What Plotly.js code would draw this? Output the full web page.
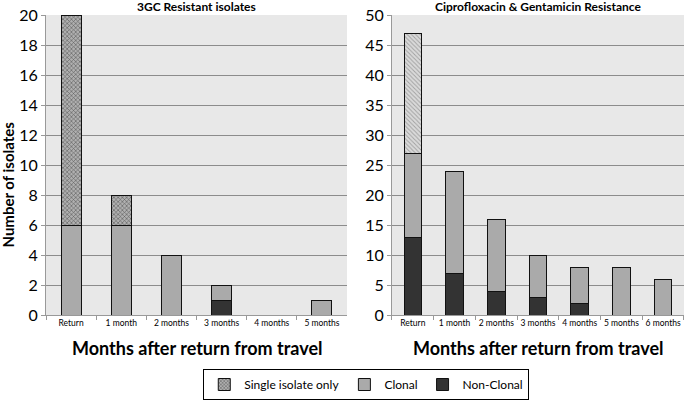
<!DOCTYPE html>
<html>
<head>
<meta charset="utf-8">
<script src="https://cdn.plot.ly/plotly-3.0.1.min.js"></script>
<style>html,body{margin:0;padding:0;background:#fff}#chart{width:685px;height:401px}</style>
</head>
<body>
<div id="chart"></div>
<script>
// Data
const catsLeft = ["Return", "1 month", "2 months", "3 months", "4 months", "5 months"];
const leftNonClonal = [0, 0, 0, 1, 0, 0];
const leftClonal = [6, 6, 4, 1, 0, 1];
const leftSingle = [14, 2, 0, 0, 0, 0];

const catsRight = ["Return", "1 month", "2 months", "3 months", "4 months", "5 months", "6 months"];
const rightNonClonal = [13, 7, 4, 3, 2, 0, 0];
const rightClonal = [14, 17, 12, 7, 6, 8, 6];
const rightSingle = [20, 0, 0, 0, 0, 0, 0];

const seriesNames = ["Non-Clonal", "Clonal", "Single isolate only"];
const titleLeft = "3GC Resistant isolates";
const titleRight = "Ciprofloxacin & Gentamicin Resistance";
const xTitle = "Months after return from travel";
const yTitle = "Number of isolates";

const FONT = "Lato, 'Open Sans', sans-serif";
const line = {color: "#111", width: 1};

const traces = [
  {type: "bar", name: seriesNames[0], x: catsLeft, y: leftNonClonal, xaxis: "x", yaxis: "y", width: 0.4,
   marker: {color: "#333333", line: line}, legendgroup: "nc"},
  {type: "bar", name: seriesNames[1], x: catsLeft, y: leftClonal, xaxis: "x", yaxis: "y", width: 0.4,
   marker: {color: "#aaaaaa", line: line}, legendgroup: "c"},
  {type: "bar", name: seriesNames[2], x: catsLeft, y: leftSingle, xaxis: "x", yaxis: "y", width: 0.4,
   marker: {color: "#9a9a9a", line: line, pattern: {shape: "x", fgcolor: "#5a5a5a", bgcolor: "#b0b0b0", size: 3, solidity: 0.35}}, legendgroup: "s"},
  {type: "bar", name: seriesNames[0], x: catsRight, y: rightNonClonal, xaxis: "x2", yaxis: "y2", width: 0.42,
   marker: {color: "#333333", line: line}, showlegend: false, legendgroup: "nc"},
  {type: "bar", name: seriesNames[1], x: catsRight, y: rightClonal, xaxis: "x2", yaxis: "y2", width: 0.42,
   marker: {color: "#aaaaaa", line: line}, showlegend: false, legendgroup: "c"},
  {type: "bar", name: seriesNames[2], x: catsRight, y: rightSingle, xaxis: "x2", yaxis: "y2", width: 0.42,
   marker: {color: "#d4d4d4", line: line, pattern: {shape: "\\", fgcolor: "#a0a0a0", bgcolor: "#dadada", size: 3, solidity: 0.3}}, showlegend: false, legendgroup: "s"}
];

const xcommon = {type: "category", showgrid: false, showline: true, linecolor: "#999", linewidth: 1,
  ticks: "outside", tickson: "boundaries", ticklen: 4, tickcolor: "#999", tickangle: 0,
  tickfont: {family: FONT, size: 8.5, color: "#000"}, fixedrange: true};
const ycommon = {showgrid: true, gridcolor: "#8c8c8c", gridwidth: 1, showline: true, linecolor: "#999", linewidth: 1,
  ticks: "outside", ticklen: 4, tickcolor: "#999", zeroline: false,
  tickfont: {family: FONT, size: 16, color: "#000"}};

const layout = {
  width: 685, height: 401,
  margin: {l: 46, r: 1, t: 15, b: 84},
  paper_bgcolor: "#ffffff",
  barmode: "stack",
  showlegend: true,
  legend: {orientation: "h", x: 0.502, xanchor: "center", y: -0.18, yanchor: "top",
    bordercolor: "#000", borderwidth: 1, bgcolor: "#fff", traceorder: "reversed",
    font: {family: FONT, size: 12, color: "#000"}, itemwidth: 30, tracegroupgap: 0},
  xaxis: Object.assign({}, xcommon, {domain: [0, 0.4718], anchor: "y"}),
  yaxis: Object.assign({}, ycommon, {range: [0, 20], dtick: 2, anchor: "x"}),
  xaxis2: Object.assign({}, xcommon, {domain: [0.5423, 1], anchor: "y2"}),
  yaxis2: Object.assign({}, ycommon, {range: [0, 50], dtick: 5, anchor: "x2"}),
  shapes: [
    {type: "rect", xref: "x domain", yref: "y domain", x0: 0, x1: 1, y0: 0, y1: 1, fillcolor: "#e8e8e8", line: {width: 0}, layer: "below"},
    {type: "rect", xref: "x2 domain", yref: "y2 domain", x0: 0, x1: 1, y0: 0, y1: 1, fillcolor: "#e8e8e8", line: {width: 0}, layer: "below"}
  ],
  annotations: [
    {text: "<b>" + titleLeft + "</b>", xref: "x domain", yref: "paper", x: 0.5, y: 1.027, yanchor: "middle", showarrow: false,
     font: {family: FONT, size: 12, color: "#000"}},
    {text: "<b>" + titleRight.replace("&", "&amp;") + "</b>", xref: "x2 domain", yref: "paper", x: 0.5, y: 1.027, yanchor: "middle", showarrow: false,
     font: {family: FONT, size: 12, color: "#000"}},
    {text: "<b>" + xTitle + "</b>", xref: "x domain", yref: "paper", x: 0.5, y: -0.11, yanchor: "middle", showarrow: false,
     font: {family: FONT, size: 18, color: "#000"}},
    {text: "<b>" + xTitle + "</b>", xref: "x2 domain", yref: "paper", x: 0.5, y: -0.11, yanchor: "middle", showarrow: false,
     font: {family: FONT, size: 18, color: "#000"}},
    {text: "<b>" + yTitle + "</b>", xref: "paper", yref: "paper", x: -0.06, y: 0.434, xanchor: "center", yanchor: "middle",
     textangle: -90, showarrow: false, font: {family: FONT, size: 15, color: "#000"}}
  ]
};

Plotly.newPlot("chart", traces, layout, {staticPlot: true, displayModeBar: false});
</script>
</body>
</html>
